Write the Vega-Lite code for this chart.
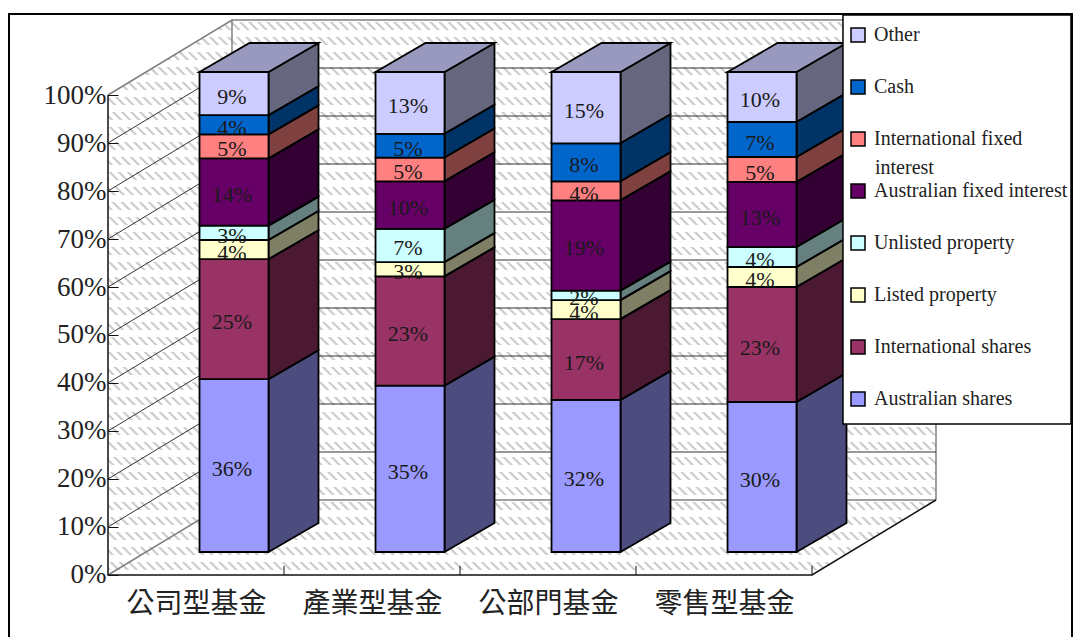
{
"$schema":"https://vega.github.io/schema/vega-lite/v6.json",
"width":1061,"height":622,
"autosize":{"type":"none"},
"padding":{"left":10,"top":15,"right":2,"bottom":0},
"background":"white",
"config":{"view":{"stroke":"black","strokeWidth":4},"text":{"font":"Liberation Serif"}},
"data":{"values":[
{"fund":"公司型基金","asset":"Australian shares","value":36},{"fund":"公司型基金","asset":"International shares","value":25},{"fund":"公司型基金","asset":"Listed property","value":4},{"fund":"公司型基金","asset":"Unlisted property","value":3},{"fund":"公司型基金","asset":"Australian fixed interest","value":14},{"fund":"公司型基金","asset":"International fixed interest","value":5},{"fund":"公司型基金","asset":"Cash","value":4},{"fund":"公司型基金","asset":"Other","value":9},
{"fund":"產業型基金","asset":"Australian shares","value":35},{"fund":"產業型基金","asset":"International shares","value":23},{"fund":"產業型基金","asset":"Listed property","value":3},{"fund":"產業型基金","asset":"Unlisted property","value":7},{"fund":"產業型基金","asset":"Australian fixed interest","value":10},{"fund":"產業型基金","asset":"International fixed interest","value":5},{"fund":"產業型基金","asset":"Cash","value":5},{"fund":"產業型基金","asset":"Other","value":13},
{"fund":"公部門基金","asset":"Australian shares","value":32},{"fund":"公部門基金","asset":"International shares","value":17},{"fund":"公部門基金","asset":"Listed property","value":4},{"fund":"公部門基金","asset":"Unlisted property","value":2},{"fund":"公部門基金","asset":"Australian fixed interest","value":19},{"fund":"公部門基金","asset":"International fixed interest","value":4},{"fund":"公部門基金","asset":"Cash","value":8},{"fund":"公部門基金","asset":"Other","value":15},
{"fund":"零售型基金","asset":"Australian shares","value":30},{"fund":"零售型基金","asset":"International shares","value":23},{"fund":"零售型基金","asset":"Listed property","value":4},{"fund":"零售型基金","asset":"Unlisted property","value":4},{"fund":"零售型基金","asset":"Australian fixed interest","value":13},{"fund":"零售型基金","asset":"International fixed interest","value":5},{"fund":"零售型基金","asset":"Cash","value":7},{"fund":"零售型基金","asset":"Other","value":10}
]},
"transform":[
{"calculate":"indexof(['公司型基金','產業型基金','公部門基金','零售型基金'],datum.fund)","as":"i"},
{"calculate":"indexof(['Australian shares','International shares','Listed property','Unlisted property','Australian fixed interest','International fixed interest','Cash','Other'],datum.asset)","as":"ord"},
{"stack":"value","groupby":["fund"],"sort":[{"field":"ord","order":"ascending"}],"offset":"normalize","as":["s0","s1"]},
{"calculate":"datum.i+0.52","as":"xl"},
{"calculate":"datum.i+0.912","as":"xr"},
{"calculate":"datum.s0+0.0479","as":"b"},
{"calculate":"datum.s1+0.0479","as":"t"}
],
"layer":[
{"data":{"values":[{}]},
 "mark":{"type":"rule","stroke":"#cdcdcd","strokeWidth":1500,"strokeDash":[2.2,4.2],"clip":true},
 "encoding":{
  "x":{"datum":-0.47,"type":"quantitative","scale":{"domain":[-0.5568,5.4716],"nice":false,"zero":false}},
  "x2":{"datum":5.15},
  "y":{"datum":-0.458,"type":"quantitative","scale":{"domain":[-0.12917,1.16667],"nice":false,"zero":false}},
  "y2":{"datum":1.604}}},
{"data":{"values":[{}]},
 "mark":{"type":"rule","stroke":"white","strokeWidth":1100,"strokeDash":[7,8],"clip":true},
 "encoding":{
  "x":{"datum":2.4,"type":"quantitative"},
  "y":{"datum":1.16667,"type":"quantitative"},
  "y2":{"datum":-0.12917}}},
{"data":{"values":[
  {"x":-0.5568,"top":1.16667,"low":-0.12917},{"x":-0.0001,"top":1.16667,"low":-0.12917},{"x":0,"top":1.16667,"low":1},
  {"x":0.7045,"top":1.16667,"low":1.15625},{"x":4.7045,"top":1.16667,"low":1.15625},
  {"x":4.7046,"top":1.16667,"low":-0.12917},{"x":5.4716,"top":1.16667,"low":-0.12917}]},
 "mark":{"type":"area","fill":"white"},
 "encoding":{"x":{"field":"x","type":"quantitative"},"y":{"field":"top","type":"quantitative"},"y2":{"field":"low"}}},
{"data":{"values":[
  {"x":0,"top":0,"low":-0.12917},{"x":4,"top":0,"low":-0.12917},{"x":4.7045,"top":0.15625,"low":-0.12917}]},
 "mark":{"type":"area","fill":"white"},
 "encoding":{"x":{"field":"x","type":"quantitative"},"y":{"field":"top","type":"quantitative"},"y2":{"field":"low"}}},
{"data":{"values":[
  {"edge":"rim","o":0,"x":0,"y":1},{"edge":"rim","o":1,"x":0.7045,"y":1.15625},{"edge":"rim","o":2,"x":4.7045,"y":1.15625},{"edge":"rim","o":3,"x":4.7045,"y":0.15625},
  {"edge":"floor","o":0,"x":0,"y":0},{"edge":"floor","o":1,"x":0.7045,"y":0.15625},{"edge":"floor","o":2,"x":4.7045,"y":0.15625},
  {"edge":"corner","o":0,"x":0.7045,"y":0.15625},{"edge":"corner","o":1,"x":0.7045,"y":1.15625}]},
 "mark":{"type":"line","stroke":"#808080","strokeWidth":1.5},
 "encoding":{"x":{"field":"x","type":"quantitative"},"y":{"field":"y","type":"quantitative"},"detail":{"field":"edge"},"order":{"field":"o"}}},
{"data":{"values":[{"share":0.1},{"share":0.2},{"share":0.3},{"share":0.4},{"share":0.5},{"share":0.6},{"share":0.7},{"share":0.8},{"share":0.9}]},
 "transform":[
  {"calculate":"[0,1,2]","as":"k"},{"flatten":["k"]},
  {"calculate":"datum.k==0?0:(datum.k==1?0.7045:4.7045)","as":"gx"},
  {"calculate":"datum.share+(datum.k==0?0:0.15625)","as":"gy"}],
 "mark":{"type":"line","stroke":"#333333","strokeWidth":1},
 "encoding":{"x":{"field":"gx","type":"quantitative"},"y":{"field":"gy","type":"quantitative"},"detail":{"field":"share"},"order":{"field":"k"}}},
{"data":{"values":[
  {"edge":"front","o":0,"x":0,"y":1},{"edge":"front","o":1,"x":0,"y":0},{"edge":"front","o":2,"x":4,"y":0},{"edge":"front","o":3,"x":4.7045,"y":0.15625}]},
 "mark":{"type":"line","stroke":"#111111","strokeWidth":1.5},
 "encoding":{"x":{"field":"x","type":"quantitative"},"y":{"field":"y","type":"quantitative"},"detail":{"field":"edge"},"order":{"field":"o"}}},
{"data":{"values":[{"slot":1},{"slot":2},{"slot":3},{"slot":4}]},
 "mark":{"type":"rule","stroke":"#111111","strokeWidth":1},
 "encoding":{"x":{"field":"slot","type":"quantitative"},"y":{"datum":0,"type":"quantitative"},"y2":{"datum":0.019}}},
{"transform":[
  {"calculate":"[0,1]","as":"k"},{"flatten":["k"]},
  {"calculate":"datum.xr+datum.k*0.284","as":"sx"},
  {"calculate":"datum.b+datum.k*0.0604","as":"sb"},
  {"calculate":"datum.t+datum.k*0.0604","as":"st"}],
 "layer":[
  {"mark":{"type":"area"},
   "encoding":{"x":{"field":"sx","type":"quantitative"},"y":{"field":"sb","type":"quantitative","stack":null},"y2":{"field":"st"},"detail":{"field":"fund"},"fill":{"field":"asset","type":"nominal"}}},
  {"mark":{"type":"area","fill":"black","fillOpacity":0.5,"stroke":"black","strokeWidth":1.8},
   "encoding":{"x":{"field":"sx","type":"quantitative"},"y":{"field":"sb","type":"quantitative","stack":null},"y2":{"field":"st"},"detail":[{"field":"fund"},{"field":"asset"}]}}
 ]},
{"transform":[
  {"filter":"datum.asset=='Other'"},
  {"calculate":"[0,1,2,3]","as":"k"},{"flatten":["k"]},
  {"calculate":"datum.k==0?datum.xl:(datum.k==1?datum.xl+0.284:(datum.k==2?datum.xr:datum.xr+0.284))","as":"sx"},
  {"calculate":"datum.k==0?datum.t:datum.t+0.0604","as":"up"},
  {"calculate":"datum.k==3?datum.t+0.0604:datum.t","as":"lo"}],
 "layer":[
  {"mark":{"type":"area"},
   "encoding":{"x":{"field":"sx","type":"quantitative"},"y":{"field":"up","type":"quantitative","stack":null},"y2":{"field":"lo"},"detail":{"field":"fund"},"fill":{"field":"asset","type":"nominal"}}},
  {"mark":{"type":"area","fill":"black","fillOpacity":0.25,"stroke":"black","strokeWidth":1.8},
   "encoding":{"x":{"field":"sx","type":"quantitative"},"y":{"field":"up","type":"quantitative","stack":null},"y2":{"field":"lo"},"detail":{"field":"fund"}}}
 ]},
{"mark":{"type":"rect","stroke":"black","strokeWidth":1.8},
 "encoding":{
  "x":{"field":"xl","type":"quantitative","axis":{"title":null,"orient":"bottom","offset":-62,"domain":false,"ticks":false,"grid":false,"values":[0.5,1.5,2.5,3.5],"labelExpr":"['公司型基金','產業型基金','公部門基金','零售型基金'][floor(datum.value)]","labelFont":"Noto Sans CJK TC","labelFontSize":28,"labelColor":"#222222","labelPadding":15,"zindex":1,"labelOverlap":false}},
  "x2":{"field":"xr"},
  "y":{"field":"b","type":"quantitative","stack":null,"axis":{"title":null,"orient":"left","offset":-98,"domain":false,"grid":false,"values":[0,0.1,0.2,0.3,0.4,0.5,0.6,0.7,0.8,0.9,1],"format":".0%","tickSize":-10,"tickColor":"#111111","labelFont":"Liberation Serif","labelFontSize":27,"labelColor":"#222222","labelPadding":12,"zindex":1,"labelOverlap":false}},
  "y2":{"field":"t"},
  "fill":{"field":"asset","type":"nominal",
    "scale":{"domain":["Other","Cash","International fixed interest","Australian fixed interest","Unlisted property","Listed property","International shares","Australian shares"],
             "range":["#CCCCFF","#0066CC","#FF8080","#660066","#CCFFFF","#FFFFCC","#993366","#9999FF"]},
    "legend":{"title":null,"orient":"none","legendX":838,"legendY":-6,"symbolType":"square","symbolSize":196,"symbolStrokeColor":"black","symbolStrokeWidth":1.5,"symbolOpacity":1,"clipHeight":52,"rowPadding":0,"labelOffset":6,"labelFont":"Liberation Serif","labelFontSize":20,"labelColor":"#222222","labelLimit":260,"padding":0,
      "labelExpr":"datum.label=='International fixed interest'?'International fixed':datum.label"}}}},
{"transform":[{"calculate":"(datum.xl+datum.xr)/2","as":"cx"},{"calculate":"(datum.b+datum.t)/2","as":"cy"},{"calculate":"datum.value+'%'","as":"pct"}],
 "mark":{"type":"text","font":"Liberation Serif","fontSize":22,"fill":"#1a1a1a","baseline":"middle","dx":-2,"dy":3},
 "encoding":{"x":{"field":"cx","type":"quantitative"},"y":{"field":"cy","type":"quantitative","stack":null},"text":{"field":"pct"}}},
{"data":{"values":[{}]},
 "mark":{"type":"rect","fill":"white","stroke":"black","strokeWidth":1.5},
 "encoding":{"x":{"datum":4.176,"type":"quantitative"},"x2":{"datum":5.4716},"y":{"datum":1.16667,"type":"quantitative"},"y2":{"datum":0.3146}}},
{"data":{"values":[{"word":"interest"}]},
 "mark":{"type":"text","font":"Liberation Serif","fontSize":20,"fill":"#222222","align":"left","baseline":"middle"},
 "encoding":{"x":{"datum":4.358,"type":"quantitative"},"y":{"datum":0.848,"type":"quantitative"},"text":{"field":"word"}}}
]
}
